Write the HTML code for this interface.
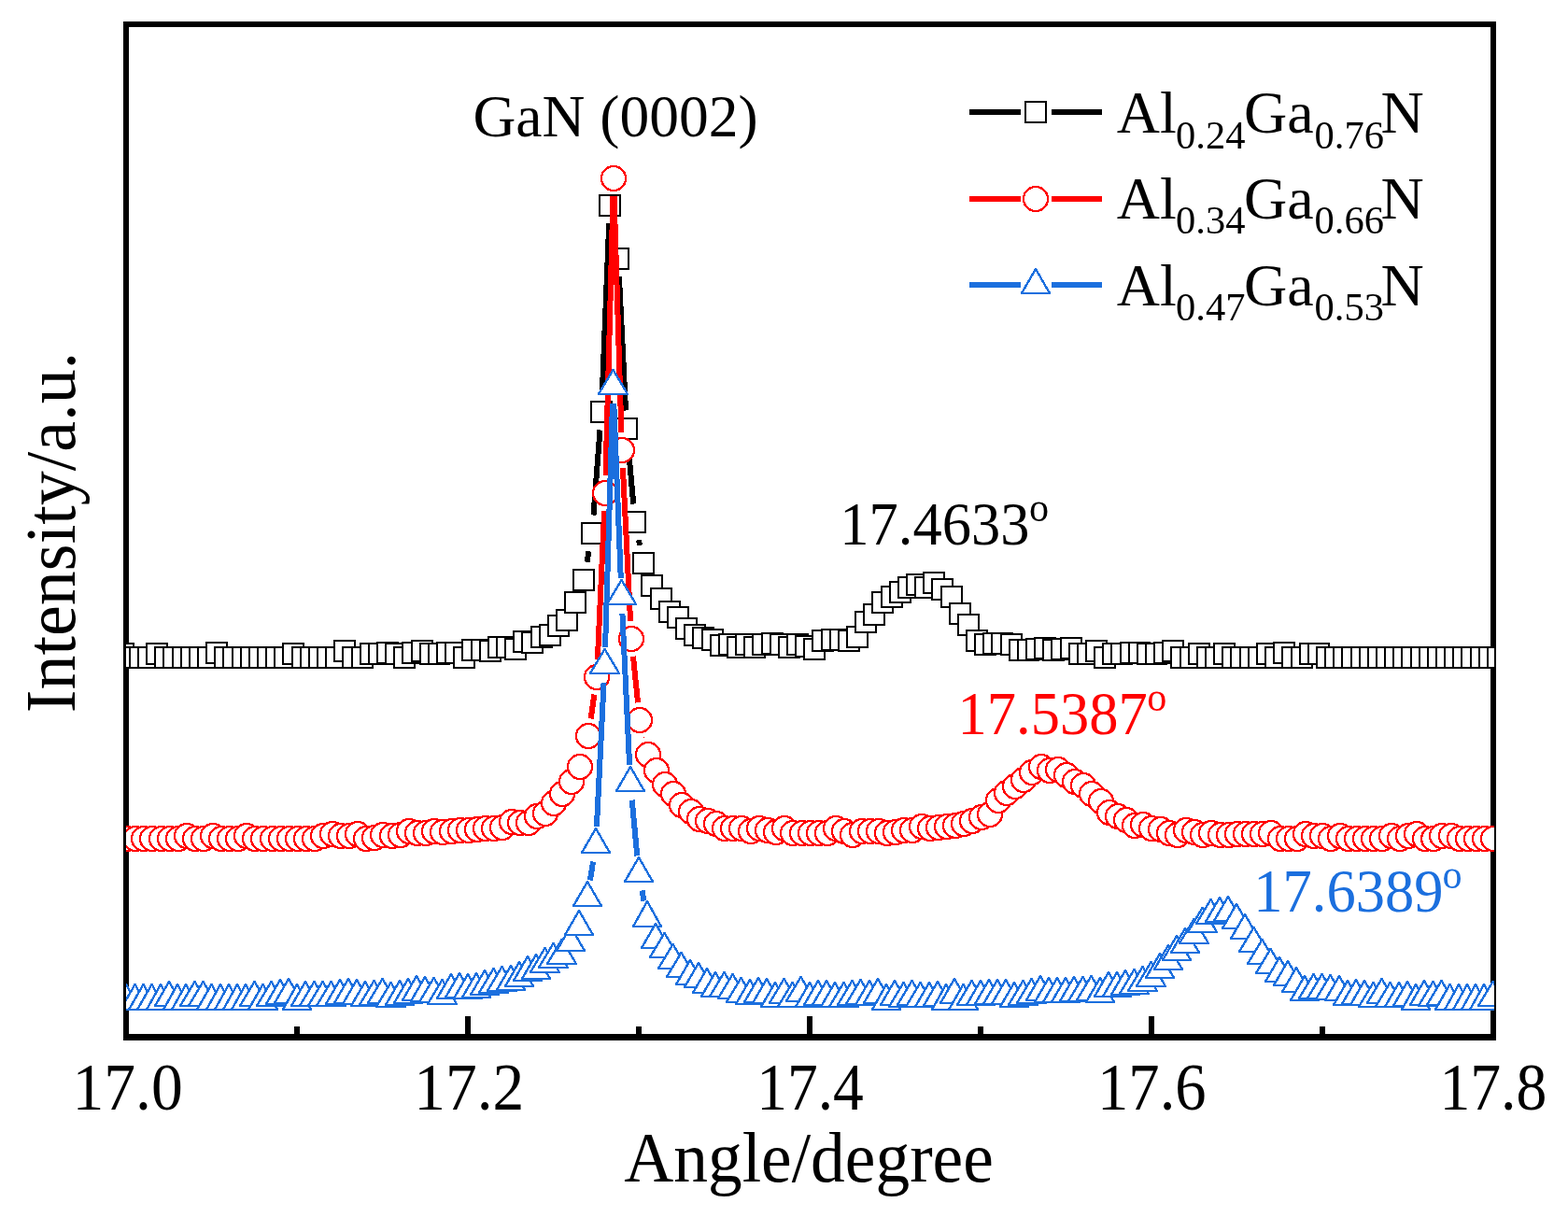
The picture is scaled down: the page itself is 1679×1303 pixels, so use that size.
<!DOCTYPE html>
<html lang="en">
<head>
<meta charset="utf-8">
<title>XRD rocking curves: AlGaN / GaN (0002)</title>
<style>
html,body{margin:0;padding:0;background:#fff;}
body{width:1679px;height:1303px;}
svg{display:block;width:1679px;height:1303px;}
</style>
</head>
<body>
<svg width="1679" height="1303" viewBox="0 0 1679 1303" role="img" aria-label="X-ray diffraction curves of three AlGaN samples around the GaN (0002) peak">
<defs><clipPath id="plot"><rect x="135" y="26" width="1465" height="1084"/></clipPath></defs>
<rect width="1679" height="1303" fill="#fff"/>
<g shape-rendering="crispEdges">
<path d="M132 23H1602V1114H132ZM138 29V1107H1596V29Z" fill="#000" fill-rule="evenodd"/>
<path d="M315 1099h6V1108h-6zM498 1088h6V1108h-6zM681 1099h6V1108h-6zM864 1088h6V1108h-6zM1047 1099h6V1108h-6zM1230 1088h6V1108h-6zM1413 1099h6V1108h-6z" fill="#000"/>
<g clip-path="url(#plot)">
<path d="M628.45 601.81L630.55 590.19M635.5 551.56L642.5 460.44M644.79 421.52L652.21 239.48M656.04 239.26L658.96 257.74M662.96 296.48L670.04 439.52M672.75 478.42L678.25 539.58M683.91 578.1L685.09 583.9" fill="none" stroke="#000000" stroke-width="6"/>
<g fill="#fff" stroke="#000000" stroke-width="2" stroke-linejoin="round">
<rect x="121" y="689" width="22" height="22"/>
<rect x="130" y="693" width="22" height="22"/>
<rect x="139" y="693" width="22" height="22"/>
<rect x="148" y="693" width="22" height="22"/>
<rect x="157" y="689" width="22" height="22"/>
<rect x="166" y="693" width="22" height="22"/>
<rect x="175" y="693" width="22" height="22"/>
<rect x="185" y="693" width="22" height="22"/>
<rect x="194" y="693" width="22" height="22"/>
<rect x="203" y="693" width="22" height="22"/>
<rect x="212" y="693" width="22" height="22"/>
<rect x="221" y="688" width="22" height="22"/>
<rect x="230" y="693" width="22" height="22"/>
<rect x="239" y="693" width="22" height="22"/>
<rect x="249" y="693" width="22" height="22"/>
<rect x="258" y="693" width="22" height="22"/>
<rect x="267" y="693" width="22" height="22"/>
<rect x="276" y="693" width="22" height="22"/>
<rect x="285" y="693" width="22" height="22"/>
<rect x="294" y="693" width="22" height="22"/>
<rect x="303" y="689" width="22" height="22"/>
<rect x="313" y="693" width="22" height="22"/>
<rect x="322" y="693" width="22" height="22"/>
<rect x="331" y="693" width="22" height="22"/>
<rect x="340" y="693" width="22" height="22"/>
<rect x="349" y="693" width="22" height="22"/>
<rect x="358" y="686" width="22" height="22"/>
<rect x="367" y="693" width="22" height="22"/>
<rect x="377" y="693" width="22" height="22"/>
<rect x="386" y="689" width="22" height="22"/>
<rect x="395" y="689" width="22" height="22"/>
<rect x="404" y="688" width="22" height="22"/>
<rect x="413" y="689" width="22" height="22"/>
<rect x="422" y="693" width="22" height="22"/>
<rect x="431" y="688" width="22" height="22"/>
<rect x="441" y="686" width="22" height="22"/>
<rect x="450" y="689" width="22" height="22"/>
<rect x="459" y="689" width="22" height="22"/>
<rect x="468" y="688" width="22" height="22"/>
<rect x="477" y="688" width="22" height="22"/>
<rect x="486" y="693" width="22" height="22"/>
<rect x="495" y="685" width="22" height="22"/>
<rect x="505" y="685" width="22" height="22"/>
<rect x="514" y="686" width="22" height="22"/>
<rect x="523" y="682" width="22" height="22"/>
<rect x="532" y="682" width="22" height="22"/>
<rect x="541" y="684" width="22" height="22"/>
<rect x="550" y="676" width="22" height="22"/>
<rect x="559" y="677" width="22" height="22"/>
<rect x="569" y="671" width="22" height="22"/>
<rect x="578" y="669" width="22" height="22"/>
<rect x="587" y="659" width="22" height="22"/>
<rect x="596" y="653" width="22" height="22"/>
<rect x="605" y="634" width="22" height="22"/>
<rect x="614" y="610" width="22" height="22"/>
<rect x="623" y="560" width="22" height="22"/>
<rect x="633" y="430" width="22" height="22"/>
<rect x="642" y="209" width="22" height="22"/>
<rect x="651" y="266" width="22" height="22"/>
<rect x="660" y="448" width="22" height="22"/>
<rect x="669" y="548" width="22" height="22"/>
<rect x="678" y="592" width="22" height="22"/>
<rect x="687" y="616" width="22" height="22"/>
<rect x="697" y="630" width="22" height="22"/>
<rect x="706" y="644" width="22" height="22"/>
<rect x="715" y="650" width="22" height="22"/>
<rect x="724" y="662" width="22" height="22"/>
<rect x="733" y="669" width="22" height="22"/>
<rect x="742" y="672" width="22" height="22"/>
<rect x="752" y="674" width="22" height="22"/>
<rect x="761" y="680" width="22" height="22"/>
<rect x="770" y="679" width="22" height="22"/>
<rect x="779" y="682" width="22" height="22"/>
<rect x="788" y="679" width="22" height="22"/>
<rect x="797" y="682" width="22" height="22"/>
<rect x="806" y="679" width="22" height="22"/>
<rect x="816" y="678" width="22" height="22"/>
<rect x="825" y="679" width="22" height="22"/>
<rect x="834" y="682" width="22" height="22"/>
<rect x="843" y="679" width="22" height="22"/>
<rect x="852" y="681" width="22" height="22"/>
<rect x="861" y="684" width="22" height="22"/>
<rect x="870" y="675" width="22" height="22"/>
<rect x="880" y="674" width="22" height="22"/>
<rect x="889" y="674" width="22" height="22"/>
<rect x="898" y="675" width="22" height="22"/>
<rect x="907" y="671" width="22" height="22"/>
<rect x="916" y="655" width="22" height="22"/>
<rect x="925" y="647" width="22" height="22"/>
<rect x="934" y="634" width="22" height="22"/>
<rect x="944" y="628" width="22" height="22"/>
<rect x="953" y="623" width="22" height="22"/>
<rect x="962" y="618" width="22" height="22"/>
<rect x="971" y="615" width="22" height="22"/>
<rect x="980" y="618" width="22" height="22"/>
<rect x="989" y="613" width="22" height="22"/>
<rect x="998" y="620" width="22" height="22"/>
<rect x="1008" y="628" width="22" height="22"/>
<rect x="1017" y="646" width="22" height="22"/>
<rect x="1026" y="658" width="22" height="22"/>
<rect x="1035" y="675" width="22" height="22"/>
<rect x="1044" y="679" width="22" height="22"/>
<rect x="1053" y="678" width="22" height="22"/>
<rect x="1062" y="678" width="22" height="22"/>
<rect x="1072" y="679" width="22" height="22"/>
<rect x="1081" y="685" width="22" height="22"/>
<rect x="1090" y="685" width="22" height="22"/>
<rect x="1099" y="684" width="22" height="22"/>
<rect x="1108" y="683" width="22" height="22"/>
<rect x="1117" y="685" width="22" height="22"/>
<rect x="1126" y="684" width="22" height="22"/>
<rect x="1136" y="683" width="22" height="22"/>
<rect x="1145" y="689" width="22" height="22"/>
<rect x="1154" y="689" width="22" height="22"/>
<rect x="1163" y="686" width="22" height="22"/>
<rect x="1172" y="693" width="22" height="22"/>
<rect x="1181" y="689" width="22" height="22"/>
<rect x="1190" y="689" width="22" height="22"/>
<rect x="1200" y="688" width="22" height="22"/>
<rect x="1209" y="688" width="22" height="22"/>
<rect x="1218" y="689" width="22" height="22"/>
<rect x="1227" y="689" width="22" height="22"/>
<rect x="1236" y="688" width="22" height="22"/>
<rect x="1245" y="686" width="22" height="22"/>
<rect x="1254" y="693" width="22" height="22"/>
<rect x="1264" y="693" width="22" height="22"/>
<rect x="1273" y="689" width="22" height="22"/>
<rect x="1282" y="693" width="22" height="22"/>
<rect x="1291" y="693" width="22" height="22"/>
<rect x="1300" y="689" width="22" height="22"/>
<rect x="1309" y="693" width="22" height="22"/>
<rect x="1318" y="693" width="22" height="22"/>
<rect x="1328" y="693" width="22" height="22"/>
<rect x="1337" y="693" width="22" height="22"/>
<rect x="1346" y="689" width="22" height="22"/>
<rect x="1355" y="693" width="22" height="22"/>
<rect x="1364" y="688" width="22" height="22"/>
<rect x="1373" y="693" width="22" height="22"/>
<rect x="1383" y="693" width="22" height="22"/>
<rect x="1392" y="689" width="22" height="22"/>
<rect x="1401" y="689" width="22" height="22"/>
<rect x="1410" y="693" width="22" height="22"/>
<rect x="1419" y="693" width="22" height="22"/>
<rect x="1428" y="693" width="22" height="22"/>
<rect x="1437" y="693" width="22" height="22"/>
<rect x="1447" y="693" width="22" height="22"/>
<rect x="1456" y="693" width="22" height="22"/>
<rect x="1465" y="693" width="22" height="22"/>
<rect x="1474" y="693" width="22" height="22"/>
<rect x="1483" y="693" width="22" height="22"/>
<rect x="1492" y="693" width="22" height="22"/>
<rect x="1501" y="693" width="22" height="22"/>
<rect x="1511" y="693" width="22" height="22"/>
<rect x="1520" y="693" width="22" height="22"/>
<rect x="1529" y="693" width="22" height="22"/>
<rect x="1538" y="693" width="22" height="22"/>
<rect x="1547" y="693" width="22" height="22"/>
<rect x="1556" y="693" width="22" height="22"/>
<rect x="1565" y="693" width="22" height="22"/>
<rect x="1575" y="693" width="22" height="22"/>
<rect x="1584" y="693" width="22" height="22"/>
<rect x="1593" y="693" width="22" height="22"/>
</g>
<path d="M632.66 769.39L636.34 743.61M639.86 706.22L647.14 546.78M648.5 509.21L656.5 209.79M657.58 209.79L665.42 463.21M666.93 500.78L675.07 665.22M677.93 702.7L683.07 752.3M689.44 789.27L689.56 789.73" fill="none" stroke="#ff0000" stroke-width="6"/>
<g fill="#fff" stroke="#ff0000" stroke-width="2.3" stroke-linejoin="round">
<circle cx="136" cy="898" r="13"/>
<circle cx="145" cy="898" r="13"/>
<circle cx="154" cy="898" r="13"/>
<circle cx="163" cy="898" r="13"/>
<circle cx="173" cy="898" r="13"/>
<circle cx="182" cy="898" r="13"/>
<circle cx="191" cy="898" r="13"/>
<circle cx="200" cy="895" r="13"/>
<circle cx="209" cy="898" r="13"/>
<circle cx="218" cy="898" r="13"/>
<circle cx="228" cy="895" r="13"/>
<circle cx="237" cy="898" r="13"/>
<circle cx="246" cy="898" r="13"/>
<circle cx="255" cy="898" r="13"/>
<circle cx="264" cy="895" r="13"/>
<circle cx="273" cy="898" r="13"/>
<circle cx="282" cy="898" r="13"/>
<circle cx="292" cy="898" r="13"/>
<circle cx="301" cy="898" r="13"/>
<circle cx="310" cy="898" r="13"/>
<circle cx="319" cy="898" r="13"/>
<circle cx="328" cy="898" r="13"/>
<circle cx="337" cy="898" r="13"/>
<circle cx="346" cy="895" r="13"/>
<circle cx="356" cy="893" r="13"/>
<circle cx="365" cy="895" r="13"/>
<circle cx="374" cy="895" r="13"/>
<circle cx="383" cy="893" r="13"/>
<circle cx="392" cy="898" r="13"/>
<circle cx="401" cy="897" r="13"/>
<circle cx="410" cy="894" r="13"/>
<circle cx="420" cy="895" r="13"/>
<circle cx="429" cy="894" r="13"/>
<circle cx="438" cy="890" r="13"/>
<circle cx="447" cy="892" r="13"/>
<circle cx="456" cy="892" r="13"/>
<circle cx="465" cy="890" r="13"/>
<circle cx="474" cy="891" r="13"/>
<circle cx="484" cy="890" r="13"/>
<circle cx="493" cy="889" r="13"/>
<circle cx="502" cy="889" r="13"/>
<circle cx="511" cy="888" r="13"/>
<circle cx="520" cy="887" r="13"/>
<circle cx="529" cy="887" r="13"/>
<circle cx="538" cy="886" r="13"/>
<circle cx="548" cy="880" r="13"/>
<circle cx="557" cy="881" r="13"/>
<circle cx="566" cy="881" r="13"/>
<circle cx="575" cy="874" r="13"/>
<circle cx="584" cy="871" r="13"/>
<circle cx="593" cy="860" r="13"/>
<circle cx="602" cy="850" r="13"/>
<circle cx="612" cy="837" r="13"/>
<circle cx="621" cy="821" r="13"/>
<circle cx="630" cy="788" r="13"/>
<circle cx="639" cy="725" r="13"/>
<circle cx="648" cy="528" r="13"/>
<circle cx="657" cy="191" r="13"/>
<circle cx="666" cy="482" r="13"/>
<circle cx="676" cy="684" r="13"/>
<circle cx="685" cy="771" r="13"/>
<circle cx="694" cy="808" r="13"/>
<circle cx="703" cy="825" r="13"/>
<circle cx="712" cy="840" r="13"/>
<circle cx="721" cy="850" r="13"/>
<circle cx="730" cy="862" r="13"/>
<circle cx="740" cy="869" r="13"/>
<circle cx="749" cy="877" r="13"/>
<circle cx="758" cy="879" r="13"/>
<circle cx="767" cy="882" r="13"/>
<circle cx="776" cy="887" r="13"/>
<circle cx="785" cy="887" r="13"/>
<circle cx="794" cy="887" r="13"/>
<circle cx="804" cy="890" r="13"/>
<circle cx="813" cy="887" r="13"/>
<circle cx="822" cy="889" r="13"/>
<circle cx="831" cy="891" r="13"/>
<circle cx="840" cy="887" r="13"/>
<circle cx="849" cy="892" r="13"/>
<circle cx="859" cy="892" r="13"/>
<circle cx="868" cy="892" r="13"/>
<circle cx="877" cy="892" r="13"/>
<circle cx="886" cy="892" r="13"/>
<circle cx="895" cy="887" r="13"/>
<circle cx="904" cy="890" r="13"/>
<circle cx="913" cy="894" r="13"/>
<circle cx="923" cy="890" r="13"/>
<circle cx="932" cy="890" r="13"/>
<circle cx="941" cy="890" r="13"/>
<circle cx="950" cy="892" r="13"/>
<circle cx="959" cy="891" r="13"/>
<circle cx="968" cy="889" r="13"/>
<circle cx="977" cy="889" r="13"/>
<circle cx="987" cy="885" r="13"/>
<circle cx="996" cy="887" r="13"/>
<circle cx="1005" cy="886" r="13"/>
<circle cx="1014" cy="885" r="13"/>
<circle cx="1023" cy="884" r="13"/>
<circle cx="1032" cy="882" r="13"/>
<circle cx="1041" cy="879" r="13"/>
<circle cx="1051" cy="875" r="13"/>
<circle cx="1060" cy="872" r="13"/>
<circle cx="1069" cy="857" r="13"/>
<circle cx="1078" cy="849" r="13"/>
<circle cx="1087" cy="842" r="13"/>
<circle cx="1096" cy="835" r="13"/>
<circle cx="1105" cy="827" r="13"/>
<circle cx="1115" cy="821" r="13"/>
<circle cx="1124" cy="825" r="13"/>
<circle cx="1133" cy="824" r="13"/>
<circle cx="1142" cy="830" r="13"/>
<circle cx="1151" cy="837" r="13"/>
<circle cx="1160" cy="841" r="13"/>
<circle cx="1169" cy="850" r="13"/>
<circle cx="1179" cy="858" r="13"/>
<circle cx="1188" cy="870" r="13"/>
<circle cx="1197" cy="874" r="13"/>
<circle cx="1206" cy="878" r="13"/>
<circle cx="1215" cy="884" r="13"/>
<circle cx="1224" cy="883" r="13"/>
<circle cx="1233" cy="887" r="13"/>
<circle cx="1243" cy="888" r="13"/>
<circle cx="1252" cy="892" r="13"/>
<circle cx="1261" cy="894" r="13"/>
<circle cx="1270" cy="889" r="13"/>
<circle cx="1279" cy="891" r="13"/>
<circle cx="1288" cy="894" r="13"/>
<circle cx="1297" cy="892" r="13"/>
<circle cx="1307" cy="894" r="13"/>
<circle cx="1316" cy="894" r="13"/>
<circle cx="1325" cy="893" r="13"/>
<circle cx="1334" cy="893" r="13"/>
<circle cx="1343" cy="893" r="13"/>
<circle cx="1352" cy="893" r="13"/>
<circle cx="1361" cy="892" r="13"/>
<circle cx="1371" cy="898" r="13"/>
<circle cx="1380" cy="898" r="13"/>
<circle cx="1389" cy="898" r="13"/>
<circle cx="1398" cy="893" r="13"/>
<circle cx="1407" cy="895" r="13"/>
<circle cx="1416" cy="895" r="13"/>
<circle cx="1425" cy="898" r="13"/>
<circle cx="1435" cy="895" r="13"/>
<circle cx="1444" cy="898" r="13"/>
<circle cx="1453" cy="898" r="13"/>
<circle cx="1462" cy="898" r="13"/>
<circle cx="1471" cy="898" r="13"/>
<circle cx="1480" cy="898" r="13"/>
<circle cx="1490" cy="895" r="13"/>
<circle cx="1499" cy="898" r="13"/>
<circle cx="1508" cy="895" r="13"/>
<circle cx="1517" cy="893" r="13"/>
<circle cx="1526" cy="898" r="13"/>
<circle cx="1535" cy="898" r="13"/>
<circle cx="1544" cy="895" r="13"/>
<circle cx="1554" cy="895" r="13"/>
<circle cx="1563" cy="898" r="13"/>
<circle cx="1572" cy="898" r="13"/>
<circle cx="1581" cy="898" r="13"/>
<circle cx="1590" cy="898" r="13"/>
<circle cx="1599" cy="898" r="13"/>
</g>
<path d="M631.92 942.53L635.08 922.47M638.92 885.32L646.58 730.68M648.06 693.31L655.94 431.69M657.25 431.69L664.75 619.31M666.39 656.68L674.11 819.32M676.73 856.62L682.27 916.38M687.45 953.38L689.55 964.62" fill="none" stroke="#1b6fde" stroke-width="6"/>
<g fill="#fff" stroke="#1b6fde" stroke-width="2.4" stroke-linejoin="round">
<path d="M135 1054l15 27h-30z"/>
<path d="M144.5 1054l15.5 27h-31z"/>
<path d="M153.5 1054l15.5 27h-31z"/>
<path d="M162.5 1054l15.5 27h-31z"/>
<path d="M172 1054l15 27h-30z"/>
<path d="M181 1051l15 26h-30z"/>
<path d="M190 1054l15 27h-30z"/>
<path d="M199 1054l15 27h-30z"/>
<path d="M208.5 1051l15.5 26h-31z"/>
<path d="M217.5 1051l15.5 26h-31z"/>
<path d="M226.5 1054l15.5 27h-31z"/>
<path d="M236 1054l15 27h-30z"/>
<path d="M245 1054l15 27h-30z"/>
<path d="M254 1054l15 27h-30z"/>
<path d="M263 1054l15 27h-30z"/>
<path d="M272.5 1051l15.5 26h-31z"/>
<path d="M281.5 1054l15.5 27h-31z"/>
<path d="M290.5 1051l15.5 26h-31z"/>
<path d="M300 1049l15 26h-30z"/>
<path d="M309 1048l15 26h-30z"/>
<path d="M318 1054l15 27h-30z"/>
<path d="M327 1051l15 26h-30z"/>
<path d="M336.5 1051l15.5 26h-31z"/>
<path d="M345.5 1051l15.5 26h-31z"/>
<path d="M354.5 1051l15.5 26h-31z"/>
<path d="M364 1049l15 26h-30z"/>
<path d="M373 1048l15 26h-30z"/>
<path d="M382 1049l15 26h-30z"/>
<path d="M391 1051l15 26h-30z"/>
<path d="M400.5 1050l15.5 26h-31z"/>
<path d="M409.5 1048l15.5 26h-31z"/>
<path d="M418.5 1052l15.5 26h-31z"/>
<path d="M428 1050l15 26h-30z"/>
<path d="M437 1048l15 26h-30z"/>
<path d="M446 1045l15 26h-30z"/>
<path d="M455 1046l15 26h-30z"/>
<path d="M464.5 1047l15.5 26h-31z"/>
<path d="M473.5 1049l15.5 26h-31z"/>
<path d="M483 1043l15 26h-30z"/>
<path d="M492 1042l15 26h-30z"/>
<path d="M501 1043l15 26h-30z"/>
<path d="M510 1042l15 26h-30z"/>
<path d="M519 1039l15 26h-30z"/>
<path d="M528.5 1037l15.5 26h-31z"/>
<path d="M537.5 1035l15.5 26h-31z"/>
<path d="M547 1034l15 26h-30z"/>
<path d="M556 1030l15 26h-30z"/>
<path d="M565 1024l15 26h-30z"/>
<path d="M574 1022l15 26h-30z"/>
<path d="M583.5 1015l15.5 26h-31z"/>
<path d="M592.5 1010l15.5 26h-31z"/>
<path d="M601.5 1006l15.5 26h-31z"/>
<path d="M611 992l15 26h-30z"/>
<path d="M620 975l15 26h-30z"/>
<path d="M629 944l15 26h-30z"/>
<path d="M638 887l15 26h-30z"/>
<path d="M647.5 695l15.5 26h-31z"/>
<path d="M656.5 396l15.5 26h-31z"/>
<path d="M665.5 621l15.5 26h-31z"/>
<path d="M675 821l15 26h-30z"/>
<path d="M684 918l15 26h-30z"/>
<path d="M693 965l15 27h-30z"/>
<path d="M702 989l15 26h-30z"/>
<path d="M711.5 999l15.5 26h-31z"/>
<path d="M720.5 1011l15.5 26h-31z"/>
<path d="M729.5 1020l15.5 26h-31z"/>
<path d="M739 1028l15 26h-30z"/>
<path d="M748 1031l15 26h-30z"/>
<path d="M757 1037l15 26h-30z"/>
<path d="M766 1041l15 26h-30z"/>
<path d="M775.5 1041l15.5 26h-31z"/>
<path d="M784.5 1043l15.5 26h-31z"/>
<path d="M793.5 1047l15.5 26h-31z"/>
<path d="M803 1049l15 26h-30z"/>
<path d="M812 1047l15 26h-30z"/>
<path d="M821 1048l15 26h-30z"/>
<path d="M830 1052l15 26h-30z"/>
<path d="M839.5 1048l15.5 26h-31z"/>
<path d="M848.5 1052l15.5 26h-31z"/>
<path d="M857.5 1046l15.5 26h-31z"/>
<path d="M867 1052l15 26h-30z"/>
<path d="M876 1050l15 26h-30z"/>
<path d="M885 1050l15 26h-30z"/>
<path d="M894 1052l15 26h-30z"/>
<path d="M903.5 1052l15.5 26h-31z"/>
<path d="M912.5 1050l15.5 26h-31z"/>
<path d="M921.5 1049l15.5 26h-31z"/>
<path d="M931 1050l15 26h-30z"/>
<path d="M940 1048l15 26h-30z"/>
<path d="M949 1054l15 27h-30z"/>
<path d="M958 1050l15 26h-30z"/>
<path d="M967.5 1052l15.5 26h-31z"/>
<path d="M976.5 1050l15.5 26h-31z"/>
<path d="M985.5 1052l15.5 26h-31z"/>
<path d="M995 1052l15 26h-30z"/>
<path d="M1004 1051l15 26h-30z"/>
<path d="M1013 1054l15 27h-30z"/>
<path d="M1022 1048l15 26h-30z"/>
<path d="M1031.5 1054l15.5 27h-31z"/>
<path d="M1040.5 1050l15.5 26h-31z"/>
<path d="M1050 1050l15 26h-30z"/>
<path d="M1059 1049l15 26h-30z"/>
<path d="M1068 1049l15 26h-30z"/>
<path d="M1077 1049l15 26h-30z"/>
<path d="M1086 1052l15 26h-30z"/>
<path d="M1095.5 1050l15.5 26h-31z"/>
<path d="M1104.5 1048l15.5 26h-31z"/>
<path d="M1114 1045l15 26h-30z"/>
<path d="M1123 1047l15 26h-30z"/>
<path d="M1132 1047l15 26h-30z"/>
<path d="M1141 1047l15 26h-30z"/>
<path d="M1150 1046l15 26h-30z"/>
<path d="M1159.5 1046l15.5 26h-31z"/>
<path d="M1168.5 1045l15.5 26h-31z"/>
<path d="M1178 1047l15 26h-30z"/>
<path d="M1187 1041l15 26h-30z"/>
<path d="M1196 1041l15 26h-30z"/>
<path d="M1205 1039l15 26h-30z"/>
<path d="M1214.5 1038l15.5 26h-31z"/>
<path d="M1223.5 1035l15.5 26h-31z"/>
<path d="M1232.5 1030l15.5 26h-31z"/>
<path d="M1242 1021l15 26h-30z"/>
<path d="M1251 1012l15 26h-30z"/>
<path d="M1260 1002l15 26h-30z"/>
<path d="M1269 994l15 26h-30z"/>
<path d="M1278.5 984l15.5 26h-31z"/>
<path d="M1287.5 972l15.5 26h-31z"/>
<path d="M1296.5 963l15.5 26h-31z"/>
<path d="M1306 961l15 26h-30z"/>
<path d="M1315 960l15 26h-30z"/>
<path d="M1324 968l15 26h-30z"/>
<path d="M1333 979l15 26h-30z"/>
<path d="M1342.5 993l15.5 26h-31z"/>
<path d="M1351.5 1006l15.5 26h-31z"/>
<path d="M1360.5 1016l15.5 26h-31z"/>
<path d="M1370 1025l15 26h-30z"/>
<path d="M1379 1029l15 26h-30z"/>
<path d="M1388 1036l15 26h-30z"/>
<path d="M1397 1045l15 26h-30z"/>
<path d="M1406.5 1043l15.5 26h-31z"/>
<path d="M1415.5 1043l15.5 26h-31z"/>
<path d="M1424.5 1044l15.5 26h-31z"/>
<path d="M1434 1045l15 26h-30z"/>
<path d="M1443 1050l15 26h-30z"/>
<path d="M1452 1049l15 26h-30z"/>
<path d="M1461 1050l15 26h-30z"/>
<path d="M1470.5 1052l15.5 26h-31z"/>
<path d="M1479.5 1048l15.5 26h-31z"/>
<path d="M1488.5 1052l15.5 26h-31z"/>
<path d="M1498 1052l15 26h-30z"/>
<path d="M1507 1051l15 26h-30z"/>
<path d="M1516 1054l15 27h-30z"/>
<path d="M1525 1050l15 26h-30z"/>
<path d="M1534.5 1051l15.5 26h-31z"/>
<path d="M1543.5 1050l15.5 26h-31z"/>
<path d="M1552.5 1054l15.5 27h-31z"/>
<path d="M1562 1054l15 27h-30z"/>
<path d="M1571 1054l15 27h-30z"/>
<path d="M1580 1054l15 27h-30z"/>
<path d="M1589 1054l15 27h-30z"/>
<path d="M1598.5 1051l15.5 26h-31z"/>
</g>
</g>
<path d="M1038 120H1093M1126 120H1180" stroke="#000000" stroke-width="6" fill="none"/>
<g fill="#fff" stroke="#000000" stroke-width="2" stroke-linejoin="round"><rect x="1098" y="109" width="22" height="22"/></g>
<path d="M1038 213H1093M1126 213H1180" stroke="#ff0000" stroke-width="6" fill="none"/>
<g fill="#fff" stroke="#ff0000" stroke-width="2.3" stroke-linejoin="round"><circle cx="1109" cy="213" r="13"/></g>
<path d="M1038 305H1093M1126 305H1180" stroke="#1b6fde" stroke-width="6" fill="none"/>
<g fill="#fff" stroke="#1b6fde" stroke-width="2.4" stroke-linejoin="round"><path d="M1109 288l15 26h-30z"/></g>
</g>
<g font-family="'Liberation Serif','Times New Roman',Times,serif" fill="#000">
<text transform="translate(136.60 1187.6) scale(0.946 1)" font-size="71.5" text-anchor="middle">17.0</text>
<text transform="translate(502.34 1187.6) scale(0.943 1)" font-size="71.5" text-anchor="middle">17.2</text>
<text transform="translate(867.53 1187.6) scale(0.915 1)" font-size="71.5" text-anchor="middle">17.4</text>
<text transform="translate(1233.32 1187.6) scale(0.932 1)" font-size="71.5" text-anchor="middle">17.6</text>
<text transform="translate(1598.91 1187.6) scale(0.9195 1)" font-size="71.5" text-anchor="middle">17.8</text>
<text transform="translate(866 1265.2) scale(0.978 1)" font-size="75.1" text-anchor="middle">Angle/degree</text>
<text transform="translate(79.5 570) rotate(-90) scale(0.974 1)" font-size="76" text-anchor="middle">Intensity/a.u.</text>
<text x="506.5" y="145.75" font-size="63.5">GaN (0002)</text>
<text font-size="64"><tspan x="1195.7" y="142.2">Al</tspan><tspan x="1259" y="159.0" font-size="42.5">0.24</tspan><tspan x="1332" y="142.2">Ga</tspan><tspan x="1407.5" y="159.0" font-size="42.5">0.76</tspan><tspan x="1478.6" y="142.2">N</tspan></text>
<text font-size="64"><tspan x="1195.7" y="233.6">Al</tspan><tspan x="1259" y="250.4" font-size="42.5">0.34</tspan><tspan x="1332" y="233.6">Ga</tspan><tspan x="1407.5" y="250.4" font-size="42.5">0.66</tspan><tspan x="1478.6" y="233.6">N</tspan></text>
<text font-size="64"><tspan x="1195.7" y="326.5">Al</tspan><tspan x="1259" y="343.3" font-size="42.5">0.47</tspan><tspan x="1332" y="326.5">Ga</tspan><tspan x="1407.5" y="343.3" font-size="42.5">0.53</tspan><tspan x="1478.6" y="326.5">N</tspan></text>
<text transform="translate(899.3 583.0) scale(0.969 1)" font-size="64.5" fill="#000000"><tspan x="0" y="0">17.4633</tspan><tspan x="209.2" y="-25" font-size="43.5">o</tspan></text>
<text transform="translate(1025.6 785.8) scale(0.969 1)" font-size="64.5" fill="#ff0000"><tspan x="0" y="0">17.5387</tspan><tspan x="209.1" y="-25" font-size="43.5">o</tspan></text>
<text transform="translate(1342.3 975.5) scale(0.969 1)" font-size="64.5" fill="#1b6fde"><tspan x="0" y="0">17.6389</tspan><tspan x="208.6" y="-25" font-size="43.5">o</tspan></text>
</g>
</svg>
</body>
</html>
